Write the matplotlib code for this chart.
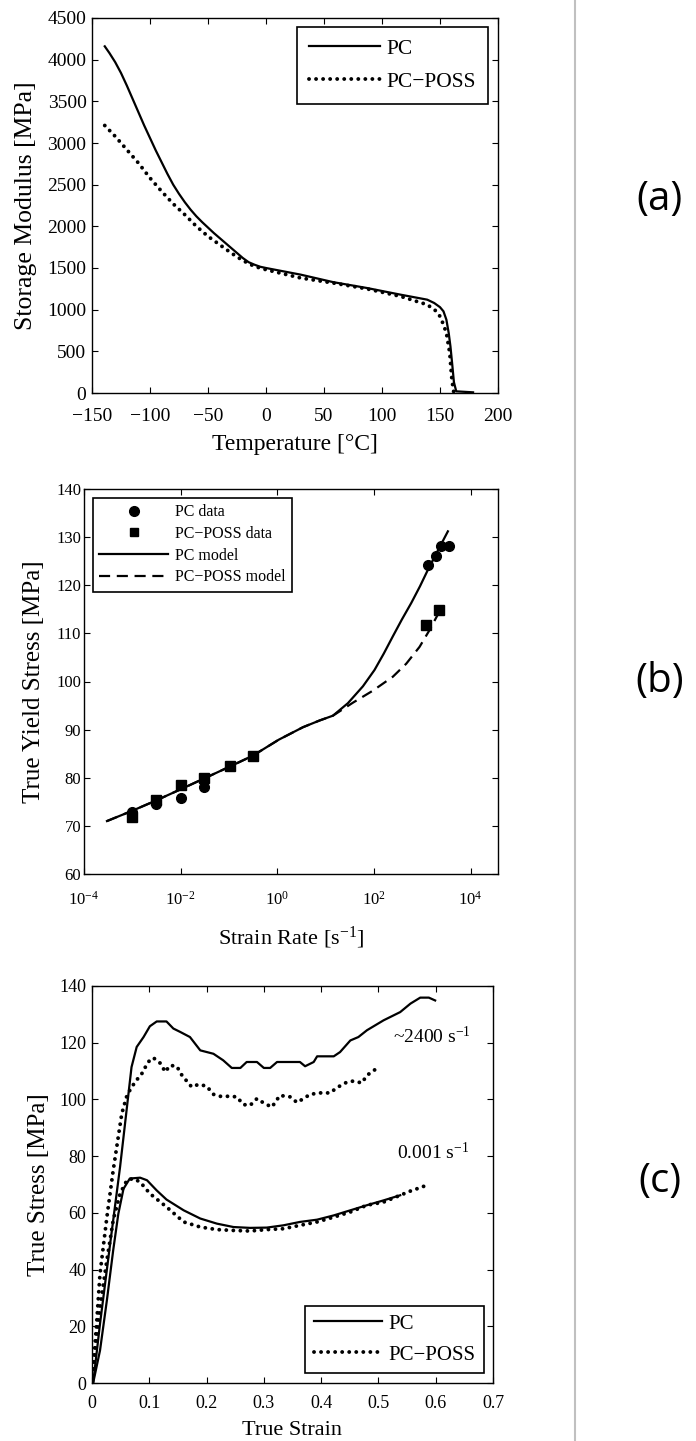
import matplotlib
matplotlib.use('Agg')
import matplotlib.pyplot as plt
from matplotlib.lines import Line2D
from matplotlib.ticker import FixedLocator, FuncFormatter, NullLocator

# (a) storage modulus vs temperature
a_temp_pc = [-139, -135, -130, -125, -120, -115, -110, -105, -100, -95, -90, -85, -80, -75, -70, -65, -60, -55, -50,
             -45, -40, -35, -30, -25, -20, -15, -10, -5, 0, 30, 58, 87, 116, 139, 145, 150, 153, 155.5, 157.5, 159, 160.5, 162, 164, 178.5]
a_mod_pc = [4160, 4080, 3970, 3840, 3690, 3530, 3370, 3210, 3060, 2910, 2770, 2630, 2500, 2390, 2290, 2200, 2120, 2050, 1985,
            1920, 1860, 1800, 1740, 1680, 1620, 1570, 1540, 1515, 1500, 1420, 1330, 1260, 1180, 1120, 1080, 1030, 980, 880, 720, 560, 350, 130, 20, 8]
a_temp_poss = [-139, -130, -120, -110, -100, -90, -80, -70, -60, -50, -40, -30, -20, -10, 0, 30, 58, 87, 116, 139, 146, 150, 153,
               155.5, 158.4, 160, 161.6, 165]
a_mod_poss = [3210, 3080, 2920, 2760, 2580, 2420, 2270, 2140, 2000, 1880, 1780, 1680, 1590, 1520, 1480, 1380, 1320, 1250, 1160, 1060, 990, 920, 820,
              720, 480, 200, 20, 5]

# (b) yield stress vs strain rate
b_rate_pc_model = [2.99e-4, 1.03e-3, 3.14e-3, 1e-2, 3.14e-2, 0.103, 0.314, 1.07, 3.40, 7.52, 14.2, 29.0, 59.2, 103, 160, 247, 380, 592, 900, 1309, 2286, 3396]
b_pc_model = [71.0, 73.2, 75.3, 77.6, 79.9, 82.3, 84.6, 87.9, 90.5, 91.9, 92.9, 95.5, 99.0, 102.4, 105.8, 109.4, 112.9, 116.3, 119.8, 123.2, 127.9, 131.2]
b_rate_poss_model = [2.99e-4, 1.03e-3, 3.14e-3, 1e-2, 3.14e-2, 0.103, 0.314, 1.07, 3.40, 7.52, 14.2, 36.8, 95.3, 247, 467, 881, 1419, 2286]
b_poss_model = [71.0, 73.2, 75.3, 77.6, 79.9, 82.3, 84.6, 87.9, 90.5, 91.9, 92.9, 95.6, 98.1, 101.0, 103.7, 107.2, 110.7, 114.6]
b_rate_pc_data = [1e-3, 3.1e-3, 1e-2, 3.1e-2, 1288, 1905, 2455, 3508]
b_pc_data = [72.8, 74.6, 75.7, 78.0, 124.3, 126.1, 128.1, 128.2]
b_rate_poss_data = [1e-3, 3.1e-3, 1e-2, 3.1e-2, 0.103, 0.314, 1170, 2190]
b_poss_data = [71.9, 75.4, 78.5, 79.9, 82.5, 84.5, 111.7, 114.9]

# (c) stress-strain curves
c_strain_pc_hi = [0.002, 0.014, 0.031, 0.049, 0.061, 0.069, 0.078, 0.090, 0.101, 0.113, 0.130, 0.142, 0.154, 0.171, 0.189, 0.212, 0.229, 0.244, 0.259, 0.270,
                  0.288, 0.300, 0.311, 0.323, 0.363, 0.372, 0.387, 0.393, 0.422, 0.433, 0.451, 0.465, 0.480, 0.509, 0.538, 0.556, 0.573, 0.588, 0.599]
c_pc_hi = [0, 20.9, 48, 76.2, 97.3, 111.4, 118.5, 122, 125.8, 127.5, 127.5, 125, 123.8, 122, 117.3, 116.1, 113.8, 111.1, 111.1, 113.2,
           113.2, 111.1, 111.1, 113.2, 113.2, 111.7, 113.2, 115.2, 115.2, 116.7, 120.8, 122, 124.4, 127.9, 130.8, 133.8, 135.9, 135.9, 134.9]
c_strain_poss_hi = [0.0, 0.008, 0.014, 0.026, 0.037, 0.052, 0.061, 0.066, 0.075, 0.087, 0.098, 0.107, 0.119, 0.128, 0.136, 0.148, 0.157, 0.174, 0.186, 0.200,
                    0.212, 0.224, 0.241, 0.253, 0.264, 0.276, 0.288, 0.300, 0.314, 0.328, 0.346, 0.358, 0.381, 0.398, 0.416, 0.427, 0.445, 0.457, 0.471, 0.480, 0.494]
c_poss_hi = [0, 20.9, 38.6, 58.5, 75, 95, 101.4, 103.2, 106.1, 109.1, 113.2, 114.7, 112.8, 109.7, 112, 111.7, 108.5, 104.4, 105.3, 104.7,
             101.8, 101.1, 101.1, 100.9, 98.2, 97.9, 100.3, 98.7, 97.3, 101.4, 100.9, 98.9, 101.8, 102.3, 102.3, 104.1, 106.1, 106.5, 105.8, 108.5, 110.5]
c_strain_pc_lo = [0.002, 0.014, 0.026, 0.037, 0.046, 0.055, 0.066, 0.084, 0.096, 0.113, 0.130, 0.160, 0.189, 0.218, 0.247, 0.276, 0.305, 0.334, 0.363, 0.393,
                  0.422, 0.451, 0.480, 0.509, 0.538]
c_pc_lo = [0, 11.5, 29.2, 46.8, 59.7, 68.5, 72.1, 72.4, 71.5, 67.9, 64.7, 60.9, 58, 56.2, 55, 54.7, 54.8, 55.6, 56.8, 57.6,
           59.1, 60.9, 62.7, 64.4, 66.2]
c_strain_poss_lo = [0.0, 0.008, 0.014, 0.026, 0.037, 0.049, 0.061, 0.072, 0.084, 0.101, 0.130, 0.160, 0.189, 0.218, 0.247, 0.276, 0.305, 0.334, 0.363, 0.393,
                    0.422, 0.451, 0.480, 0.509, 0.538, 0.556, 0.573, 0.589]
c_poss_lo = [0, 15, 26.8, 43.3, 57.4, 66.8, 71.5, 72.1, 70.9, 66.8, 62.1, 56.8, 55, 54.1, 53.8, 53.6, 54.1, 54.4, 55.6, 56.8,
             58.5, 60.3, 62.7, 63.8, 66.2, 67.7, 68.9, 70.1]

plt.rcParams['font.family'] = ['Liberation Serif', 'DejaVu Serif']
plt.rcParams['mathtext.fontset'] = 'custom'
plt.rcParams['mathtext.rm'] = 'Liberation Serif'
plt.rcParams['mathtext.it'] = 'Liberation Serif:italic'
plt.rcParams['xtick.direction'] = 'in'
plt.rcParams['ytick.direction'] = 'in'
plt.rcParams['xtick.top'] = True
plt.rcParams['ytick.right'] = True
plt.rcParams['xtick.major.size'] = 4
plt.rcParams['ytick.major.size'] = 4
plt.rcParams['axes.linewidth'] = 1.0

dotted = (0, (0.01, 1.8))
W, H = 696, 1441

def box(l, t, r, b):
    return [l / W, 1 - b / H, (r - l) / W, (b - t) / H]

fig = plt.figure(figsize=(6.96, 14.41), dpi=100)

# ---- (a)
ax1 = fig.add_axes(box(92, 18, 498, 393))
ax1.plot(a_temp_pc, a_mod_pc, color='k', lw=1.6, label='PC')
ax1.plot(a_temp_poss, a_mod_poss, color='k', lw=2.8, linestyle=dotted, dash_capstyle='round', label='PC\u2212POSS')
ax1.set_xlim(-150, 200)
ax1.set_ylim(0, 4500)
ax1.set_xticks(range(-150, 201, 50))
ax1.set_yticks(range(0, 4501, 500))
ax1.tick_params(labelsize=14)
ax1.tick_params(axis='x', pad=10.5)
ax1.tick_params(axis='y', pad=4)
ax1.set_xlabel('Temperature [°C]', fontsize=17, labelpad=7)
ax1.set_ylabel('Storage Modulus [MPa]', fontsize=18.5, labelpad=7.5)
leg = ax1.legend(loc='upper right', bbox_to_anchor=(1 - 10 / 406, 1 - 9 / 375), borderaxespad=0,
                 fontsize=15.5, handlelength=3.3, handletextpad=0.3, labelspacing=0.6, borderpad=0.55,
                 fancybox=False, edgecolor='k', framealpha=1)
leg.get_frame().set_linewidth(1.2)

# ---- (b)
ax2 = fig.add_axes(box(84, 489, 498, 874))
ax2.set_xscale('log')
ax2.plot(b_rate_pc_model, b_pc_model, color='k', lw=1.6, zorder=2)
ax2.plot(b_rate_poss_model, b_poss_model, color='k', lw=1.6, linestyle=(0, (5, 3)), zorder=2)
ax2.plot(b_rate_pc_data, b_pc_data, 'ko', ms=7, zorder=3)
ax2.plot(b_rate_poss_data, b_poss_data, 'ks', ms=6.5, zorder=3)
ax2.set_xlim(1e-4, 3.7e4)
ax2.set_ylim(60, 140)
ax2.xaxis.set_major_locator(FixedLocator([1e-4, 1e-2, 1, 1e2, 1e4]))
ax2.xaxis.set_minor_locator(NullLocator())
ax2.set_yticks(range(60, 141, 10))
ax2.tick_params(labelsize=12)
ax2.tick_params(axis='x', pad=12)
ax2.tick_params(axis='y', pad=2)
ax2.set_xlabel('Strain Rate [s$^{-1}$]', fontsize=16, labelpad=12)
ax2.set_ylabel('True Yield Stress [MPa]', fontsize=18, labelpad=8)
handles = [Line2D([], [], color='k', marker='o', ls='none', ms=7),
           Line2D([], [], color='k', marker='s', ls='none', ms=6),
           Line2D([], [], color='k', lw=1.6),
           Line2D([], [], color='k', lw=1.6, linestyle=(0, (5, 3)))]
leg = ax2.legend(handles, ['PC data', 'PC\u2212POSS data', 'PC model', 'PC\u2212POSS model'],
                 loc='upper left', bbox_to_anchor=(9 / 414, 1 - 9 / 385), borderaxespad=0,
                 fontsize=11.5, handlelength=4.3, handletextpad=0.45, labelspacing=0.35, numpoints=1,
                 fancybox=False, edgecolor='k', framealpha=1)
leg.get_frame().set_linewidth(1.2)

# ---- (c)
ax3 = fig.add_axes(box(92, 986, 493, 1383))
ax3.plot(c_strain_pc_hi, c_pc_hi, color='k', lw=1.6, label='PC')
ax3.plot(c_strain_poss_hi, c_poss_hi, color='k', lw=2.8, linestyle=dotted, dash_capstyle='round', label='PC\u2212POSS')
ax3.plot(c_strain_pc_lo, c_pc_lo, color='k', lw=1.6)
ax3.plot(c_strain_poss_lo, c_poss_lo, color='k', lw=2.8, linestyle=dotted, dash_capstyle='round')
ax3.set_xlim(0, 0.7)
ax3.set_ylim(0, 140)
ax3.set_xticks([0, 0.1, 0.2, 0.3, 0.4, 0.5, 0.6, 0.7])
ax3.set_yticks(range(0, 141, 20))
ax3.xaxis.set_major_formatter(FuncFormatter(lambda v, p: '%g' % v))
ax3.tick_params(labelsize=13)
ax3.tick_params(axis='x', pad=9)
ax3.tick_params(axis='y', pad=4)
ax3.set_xlabel('True Strain', fontsize=16, labelpad=6)
ax3.set_ylabel('True Stress [MPa]', fontsize=18, labelpad=7)
ax3.text(0.526, 119.7, '~2400 s$^{-1}$', fontsize=14, va='baseline')
ax3.text(0.532, 79.1, '0.001 s$^{-1}$', fontsize=14, va='baseline')
leg = ax3.legend(loc='lower right', bbox_to_anchor=(1 - 9 / 401, 10 / 397), borderaxespad=0,
                 fontsize=15, handlelength=3.3, handletextpad=0.3, labelspacing=0.55,
                 fancybox=False, edgecolor='k', framealpha=1)
leg.get_frame().set_linewidth(1.2)

# separator line and panel tags
fig.add_artist(Line2D([575 / W, 575 / W], [0, 1], transform=fig.transFigure, color='#c0c0c0', lw=1.5))
for lab, yc in [('(a)', 200), ('(b)', 682), ('(c)', 1182)]:
    fig.text(660 / W, 1 - yc / H, lab, fontsize=29, family=['Open Sans', 'DejaVu Sans'], ha='center', va='center')

fig.savefig('out.png', dpi=100)
